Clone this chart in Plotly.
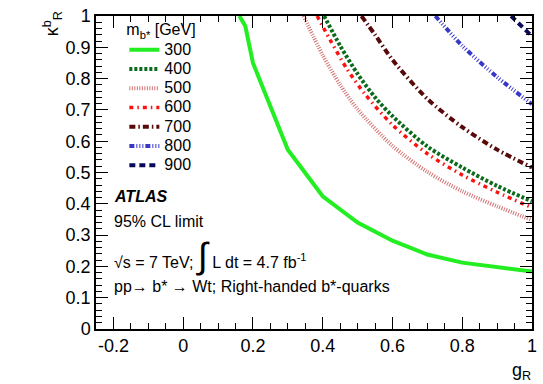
import plotly.graph_objects as go

# Excluded-region boundaries (95% CL) in the (g_R, kappa_R^b) plane, one per b* mass
masses = ["300", "400", "500", "600", "700", "800", "900"]

g_300 = [0.161, 0.178, 0.2, 0.3, 0.4, 0.5, 0.6, 0.7, 0.8, 0.9, 1.0]
k_300 = [1.0, 0.968, 0.85, 0.573, 0.424, 0.34, 0.282, 0.238, 0.212, 0.198, 0.184]

g_400 = [0.404, 0.45, 0.5, 0.55, 0.6, 0.7, 0.8, 0.9, 1.0]
k_400 = [1.0, 0.905, 0.815, 0.74, 0.68, 0.583, 0.516, 0.457, 0.408]

g_500 = [0.345, 0.4, 0.45, 0.5, 0.6, 0.7, 0.8, 0.9, 1.0]
k_500 = [1.0, 0.875, 0.78, 0.702, 0.585, 0.502, 0.44, 0.392, 0.348]

g_600 = [0.384, 0.42, 0.47, 0.52, 0.6, 0.7, 0.8, 0.9, 1.0]
k_600 = [1.0, 0.926, 0.83, 0.752, 0.652, 0.56, 0.492, 0.437, 0.388]

g_700 = [0.511, 0.55, 0.6, 0.7, 0.8, 0.9, 1.0]
k_700 = [1.0, 0.94, 0.86, 0.735, 0.645, 0.573, 0.516]

g_800 = [0.723, 0.8, 0.9, 1.0]
k_800 = [1.0, 0.905, 0.805, 0.718]

g_900 = [0.94, 1.0]
k_900 = [1.0, 0.935]

x_tick_vals = [-0.2, 0, 0.2, 0.4, 0.6, 0.8, 1.0]
x_tick_text = ["-0.2", "0", "0.2", "0.4", "0.6", "0.8", "1"]

curves = [
    (g_300, k_300, "#22ee22", "solid", 4, "linear"),
    (g_400, k_400, "#0b6b1b", "3px,2px", 4, "spline"),
    (g_500, k_500, "#d27070", "1px,1.5px", 4, "spline"),
    (g_600, k_600, "#ff1010", "4px,4px,1.5px,4px", 3.5, "spline"),
    (g_700, k_700, "#580a0a", "6px,3px,1.5px,3px", 4, "spline"),
    (g_800, k_800, "#3838c8", "5px,2px,1px,2px,1px,2px,1px,2px", 4, "spline"),
    (g_900, k_900, "#0a0a5c", "6px,4px", 4, "spline"),
]

font_family = "Liberation Sans, Arial, sans-serif"

fig = go.Figure()
for name, (gx, ky, color, dash, width, shape) in zip(masses, curves):
    fig.add_trace(go.Scatter(
        x=gx, y=ky, mode="lines",
        name=f"<span style='font-size:16px'>{name}</span>",
        line=dict(color=color, dash=dash, width=width, shape=shape, smoothing=0.8),
    ))

axis_common = dict(
    showgrid=False, zeroline=False, showline=True, linecolor="black", linewidth=1.5,
    mirror="ticks", ticks="inside", ticklen=12, tickwidth=1, tickcolor="black",
    tickfont=dict(family=font_family, size=18, color="black"),
)

fig.update_xaxes(
    range=[-0.25, 1.0], tickvals=x_tick_vals, ticktext=x_tick_text,
    minor=dict(ticks="inside", ticklen=6, dtick=0.05, tick0=0, tickcolor="black",
               showgrid=False),
    **axis_common,
)
fig.update_yaxes(
    range=[0, 1.0], tick0=0, dtick=0.1, tickformat="~g",
    minor=dict(ticks="inside", ticklen=6, dtick=0.02, tickcolor="black", showgrid=False),
    **axis_common,
)

text_font = dict(family=font_family, size=16, color="black")

annotations = [
    dict(x=0.036, y=0.424, text="<b><i>ATLAS</i></b>"),
    dict(x=0.036, y=0.345, text="95% CL limit"),
    dict(x=0.036, y=0.235,
         text="√s = 7 TeV; <span style='font-size:36px'>∫</span> L dt = 4.7 fb<sup>-1</sup>"),
    dict(x=0.036, y=0.136, text="pp→ b* → Wt; Right-handed b*-quarks"),
]
for a in annotations:
    fig.add_annotation(xref="paper", yref="paper", xanchor="left", yanchor="middle",
                       showarrow=False, font=text_font, **a)

# Axis titles placed at the far ends of the axes
title_font = dict(family=font_family, size=18, color="black")
fig.add_annotation(xref="paper", yref="paper", x=-0.1, y=0.975, xanchor="center",
                   yanchor="middle", textangle=-90, showarrow=False,
                   text="κ<sup>b</sup><sub>R</sub>", font=title_font)
fig.add_annotation(xref="paper", yref="paper", x=0.975, y=-0.135, xanchor="center",
                   yanchor="middle", showarrow=False,
                   text="g<sub>R</sub>", font=title_font)

fig.update_layout(
    width=543, height=384,
    margin=dict(l=96, r=6, t=13, b=55),
    paper_bgcolor="white", plot_bgcolor="white",
    font=dict(family=font_family, color="black"),
    showlegend=True,
    legend=dict(
        x=0.065, y=1.005, xanchor="left", yanchor="top",
        bgcolor="rgba(0,0,0,0)", borderwidth=0,
        font=dict(family=font_family, size=12.5, color="black"),
        title=dict(text="m<sub>b*</sub> [GeV]",
                   font=dict(family=font_family, size=16, color="black")),
        tracegroupgap=0, itemwidth=30,
    ),
)

fig.write_html("out.html")
